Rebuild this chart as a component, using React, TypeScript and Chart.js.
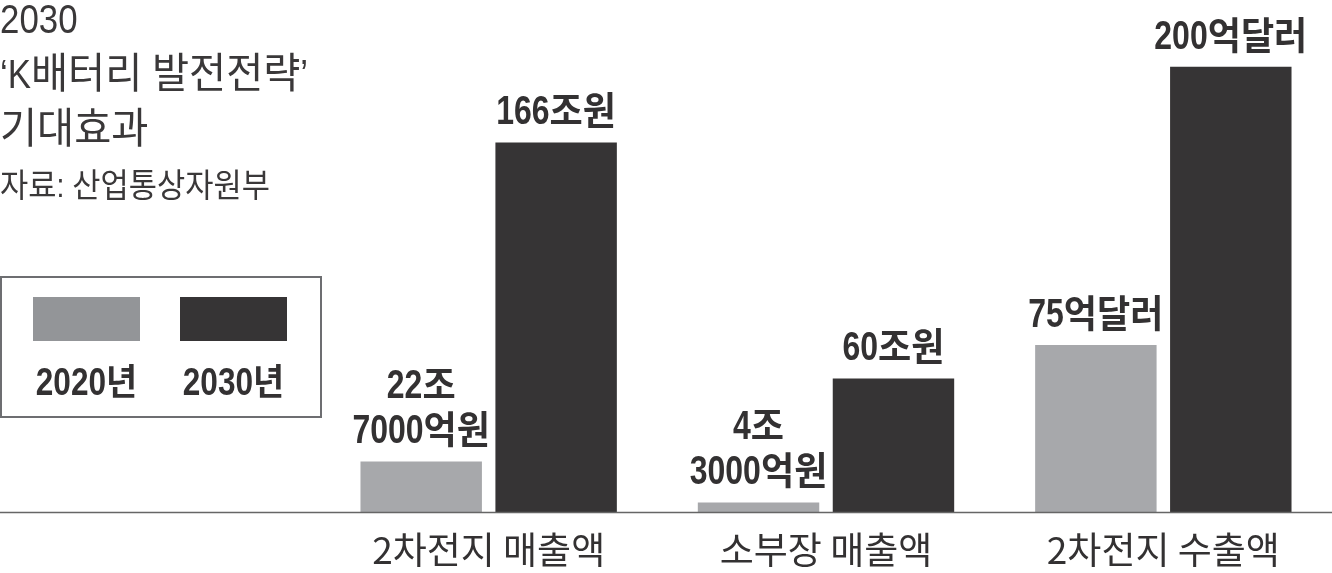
import { useEffect, useRef } from "react";
import { Chart, registerables } from "chart.js";

Chart.register(...registerables);

// ---- data ----
const categories = ["2차전지 매출액", "소부장 매출액", "2차전지 수출액"];
const seriesNames = ["2020년", "2030년"];
const values2020 = [22.7, 4.3, 75];
const values2030 = [166, 60, 200];
const valueLabels2020 = [["22조", "7000억원"], ["4조", "3000억원"], ["75억달러"]];
const valueLabels2030 = [["166조원"], ["60조원"], ["200억달러"]];
const titleLines = ["2030", "‘K배터리 발전전략’", "기대효과"];
const sourceText = "자료: 산업통상자원부";

// ---- styles ----
const barColors = ["#a7a8ab", "#363435"];
const legendColors = ["#939598", "#363435"];
const textColor = "#333132";

type TStyle = { latinFont: string; latinScale: number; hangulFont: string; hangulScale: number };

const titleStyle: TStyle = {
  latinFont: "400 41px 'Liberation Sans', sans-serif",
  latinScale: 0.85,
  hangulFont: "400 42px 'Noto Sans CJK KR', sans-serif",
  hangulScale: 0.96,
};
const sourceStyle: TStyle = {
  latinFont: "400 33px 'Liberation Sans', sans-serif",
  latinScale: 0.86,
  hangulFont: "400 33px 'Noto Sans CJK KR', sans-serif",
  hangulScale: 0.93,
};
const valueStyle: TStyle = {
  latinFont: "700 40px 'Liberation Sans', sans-serif",
  latinScale: 0.8,
  hangulFont: "700 38px 'Noto Sans CJK KR', sans-serif",
  hangulScale: 0.95,
};
const legendStyle: TStyle = {
  latinFont: "700 39px 'Liberation Sans', sans-serif",
  latinScale: 0.81,
  hangulFont: "700 36px 'Noto Sans CJK KR', sans-serif",
  hangulScale: 0.94,
};

function splitRuns(s: string) {
  const runs: { text: string; latin: boolean }[] = [];
  for (const ch of s) {
    const c = ch.codePointAt(0) || 0;
    const latin = c < 0x1100 || (c >= 0x2000 && c <= 0x206f);
    const last = runs[runs.length - 1];
    if (last && last.latin === latin) last.text += ch;
    else runs.push({ text: ch, latin });
  }
  return runs;
}

function drawMixed(
  ctx: CanvasRenderingContext2D,
  text: string,
  x: number,
  y: number,
  align: "left" | "center" | "right",
  st: TStyle
) {
  const runs = splitRuns(text);
  const widths = runs.map((r) => {
    ctx.font = r.latin ? st.latinFont : st.hangulFont;
    return ctx.measureText(r.text).width * (r.latin ? st.latinScale : st.hangulScale);
  });
  const total = widths.reduce((a, b) => a + b, 0);
  let cx = align === "center" ? x - total / 2 : align === "right" ? x - total : x;
  runs.forEach((r, i) => {
    ctx.save();
    ctx.font = r.latin ? st.latinFont : st.hangulFont;
    ctx.textAlign = "left";
    ctx.textBaseline = "alphabetic";
    ctx.translate(cx, y);
    ctx.scale(r.latin ? st.latinScale : st.hangulScale, 1);
    ctx.fillText(r.text, 0, 0);
    ctx.restore();
    cx += widths[i];
  });
}

const annotPlugin = {
  id: "annot",
  afterDatasetsDraw(chart: any) {
    const ctx: CanvasRenderingContext2D = chart.ctx;
    const area = chart.chartArea;
    ctx.save();
    // baseline across full width
    ctx.strokeStyle = "#666666";
    ctx.lineWidth = 1.5;
    ctx.beginPath();
    ctx.moveTo(0, area.bottom + 0.5);
    ctx.lineTo(chart.width, area.bottom + 0.5);
    ctx.stroke();

    ctx.fillStyle = textColor;
    // value labels
    const allLabels = [valueLabels2020, valueLabels2030];
    chart.data.datasets.forEach((_: any, di: number) => {
      const meta = chart.getDatasetMeta(di);
      meta.data.forEach((bar: any, i: number) => {
        const lines = allLabels[di][i];
        const n = lines.length;
        lines.forEach((line: string, li: number) => {
          const y = bar.y - 18 - (n - 1 - li) * 45;
          drawMixed(ctx, line, bar.x, y, "center", valueStyle);
        });
      });
    });

    // title
    ctx.fillStyle = "#3a3839";
    const titleBase = [33, 88, 143];
    titleLines.forEach((t, i) => drawMixed(ctx, t, 0, titleBase[i], "left", titleStyle));
    drawMixed(ctx, sourceText, 0, 197, "left", sourceStyle);

    // legend box
    ctx.strokeStyle = "#6d6e71";
    ctx.lineWidth = 2;
    ctx.strokeRect(1, 277, 320, 140);
    const swX = [33, 180];
    seriesNames.forEach((name, i) => {
      ctx.fillStyle = legendColors[i];
      ctx.fillRect(swX[i], 297, 107, 44);
      ctx.fillStyle = textColor;
      drawMixed(ctx, name, swX[i] + 53.5, 395, "center", legendStyle);
    });
    ctx.restore();
  },
};

export default function App() {
  const ref = useRef<HTMLCanvasElement | null>(null);
  useEffect(() => {
    if (!ref.current) return;
    const chart = new Chart(ref.current, {
      type: "bar",
      data: {
        labels: categories,
        datasets: [
          { label: seriesNames[0], data: values2020, backgroundColor: barColors[0], borderWidth: 0 },
          { label: seriesNames[1], data: values2030, backgroundColor: barColors[1], borderWidth: 0 },
        ],
      },
      options: {
        animation: false,
        responsive: false,
        maintainAspectRatio: false,
        layout: { padding: { left: 320, right: 0, top: 0, bottom: 0 } },
        datasets: { bar: { categoryPercentage: 0.8, barPercentage: 0.9 } },
        scales: {
          x: {
            grid: { display: false, drawTicks: false },
            border: { display: false },
            ticks: {
              color: textColor,
              padding: 18,
              maxRotation: 0,
              autoSkip: false,
              font: { family: "'Noto Sans CJK KR', sans-serif", size: 37, weight: "normal", lineHeight: 1.1 },
            },
            afterFit: (scale: any) => {
              scale.height = 61;
            },
          },
          y: { display: false, min: 0, max: 230 },
        },
        plugins: {
          legend: { display: false },
          tooltip: { enabled: false },
          title: { display: false },
        },
      } as any,
      plugins: [annotPlugin],
    });
    return () => chart.destroy();
  }, []);
  return (
    <div style={{ position: "absolute", left: 0, top: 0, width: 1332, height: 573, background: "#fff" }}>
      <canvas ref={ref} width={1332} height={573} style={{ display: "block" }} />
    </div>
  );
}
